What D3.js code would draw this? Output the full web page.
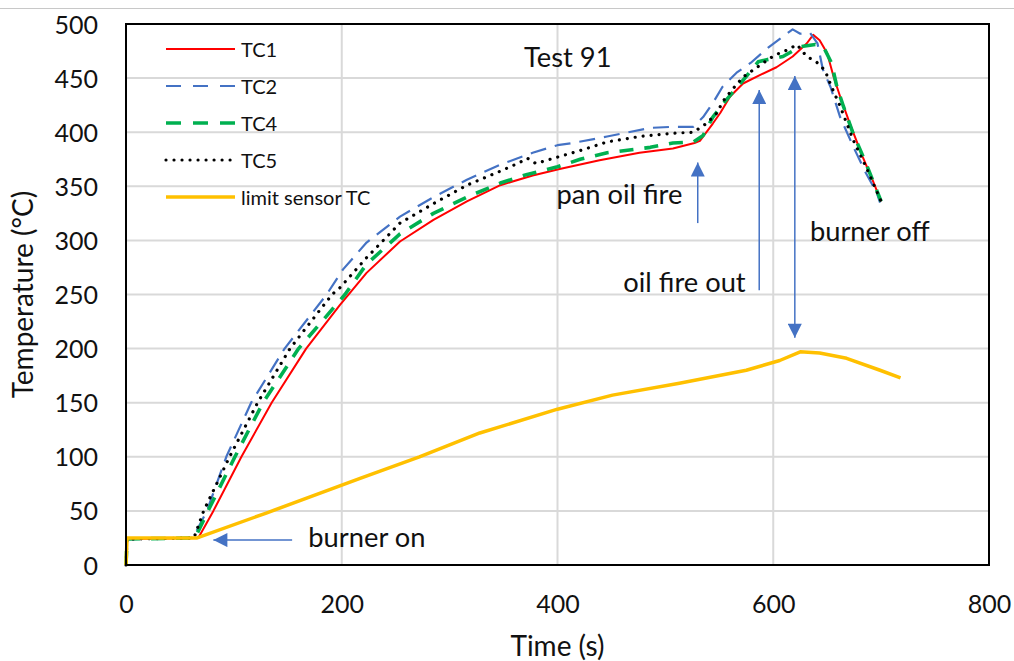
<!DOCTYPE html>
<html>
<head>
<meta charset="utf-8">
<script src="https://cdn.jsdelivr.net/npm/d3@7"></script>
<style>
  body { margin: 0; background: #fff; }
  text { font-family: Lato, "Open Sans", sans-serif; fill: #111; }
</style>
</head>
<body>
<script>
// [time s, temperature °C]
const tc1 = [[0,0],[1,24],[67,25],[81,50],[107,100],[135,150],[167,200],[198,240],[223,270],[254,299],[285,319],[316,336],[347,351],[377,360],[402,366],[439,374],[476,381],[507,385],[527,390],[532,392],[544,408],[551,418],[560,433],[572,445],[588,453],[603,460],[618,470],[631,482],[637,490],[643,485],[650,473],[656,451],[662,433],[671,408],[683,377],[692,356],[700,336]];
const tc2 = [[0,0],[1,24],[62,25],[75,50],[93,100],[116,150],[147,200],[186,250],[201,273],[223,298],[254,322],[285,340],[316,356],[347,370],[377,381],[400,388],[414,390],[446,396],[486,404],[507,405],[526,405],[535,414],[544,427],[553,442],[566,455],[579,464],[595,478],[607,487],[618,495],[625,491],[634,492],[641,482],[646,458],[653,442],[662,414],[674,387],[686,362],[696,344],[699,335]];
const tc4 = [[0,0],[1,24],[64,25],[76,50],[101,100],[127,150],[160,200],[203,250],[223,278],[254,306],[285,325],[316,340],[347,353],[372,361],[400,368],[421,375],[446,381],[486,386],[507,390],[526,391],[535,397],[544,414],[555,428],[572,448],[586,465],[594,467],[609,470],[625,479],[639,481],[647,478],[654,464],[659,442],[665,424],[674,399],[686,371],[700,336]];
const tc5 = [[0,0],[1,24],[63,25],[72,50],[96,100],[122,150],[152,200],[191,250],[198,256],[223,284],[254,316],[285,334],[316,351],[347,364],[365,372],[372,376],[380,371],[400,377],[421,383],[446,391],[476,396],[507,399],[526,400],[538,408],[548,418],[553,428],[560,437],[572,451],[585,460],[601,471],[613,476],[622,481],[631,470],[640,465],[648,457],[654,442],[662,424],[674,393],[686,368],[700,336]];
const limitTC = [[0,0],[1,25],[66,25],[130,48],[217,80],[272,100],[328,122],[400,144],[451,157],[513,168],[575,180],[606,189],[625,197],[643,196],[668,191],[699,180],[718,173]];

const seriesNames = ["TC1", "TC2", "TC4", "TC5", "limit sensor TC"];
const xTicks = [0, 200, 400, 600, 800];
const yTicks = [0, 50, 100, 150, 200, 250, 300, 350, 400, 450, 500];

// annotation arrows: [t, T] from -> to
const arrowFrom = [[154,23], [530,316], [587,254], [620,452]];
const arrowTo = [[81,23], [530,372], [587,439], [620,210]];
const arrowBoth = [false, false, false, true];
const noteText = ["burner on", "pan oil fire", "oil fire out", "burner off", "Test 91"];
const notePos = [[169,17], [399,334], [461,252], [634,299], [369,460]];

const width = 1014, height = 661;
const margin = {top: 24, right: 25, bottom: 96, left: 126};

const svg = d3.select("body").append("svg")
    .attr("width", width)
    .attr("height", height);

svg.append("rect").attr("width", width).attr("height", height).attr("fill", "#fff");
// thin frame line of the screenshot at the top
svg.append("line")
    .attr("x1", 0).attr("x2", width).attr("y1", 8.5).attr("y2", 8.5)
    .attr("stroke", "#c8c8c8").attr("stroke-width", 1);

const x = d3.scaleLinear().domain([0, 800]).range([margin.left, width - margin.right]);
const y = d3.scaleLinear().domain([0, 500]).range([height - margin.bottom, margin.top]);

// grid
svg.append("g").selectAll("line")
    .data(yTicks)
    .join("line")
    .attr("x1", x(0)).attr("x2", x(800))
    .attr("y1", d => y(d)).attr("y2", d => y(d))
    .attr("stroke", "#d9d9d9").attr("stroke-width", 2);
svg.append("g").selectAll("line")
    .data(xTicks)
    .join("line")
    .attr("y1", y(0)).attr("y2", y(500))
    .attr("x1", d => x(d)).attr("x2", d => x(d))
    .attr("stroke", "#d9d9d9").attr("stroke-width", 2);

// axes (labels only)
const xAxis = svg.append("g")
    .attr("transform", "translate(0," + y(0) + ")")
    .call(d3.axisBottom(x).tickValues(xTicks).tickSize(0).tickPadding(30));
const yAxis = svg.append("g")
    .attr("transform", "translate(" + (x(0) - 28) + ",0)")
    .call(d3.axisLeft(y).tickValues(yTicks).tickSize(0).tickPadding(0));
[xAxis, yAxis].forEach(a => {
    a.select(".domain").remove();
    a.selectAll("text").attr("font-size", 25).attr("font-family", "Lato").attr("fill", "#111");
});
yAxis.selectAll("text").attr("dy", "0.36em");

svg.append("text")
    .attr("x", (x(0) + x(800)) / 2).attr("y", 656)
    .attr("text-anchor", "middle").attr("font-size", 28)
    .text("Time (s)");
svg.append("text")
    .attr("transform", "translate(33," + (y(0) + y(500)) / 2 + ") rotate(-90)")
    .attr("text-anchor", "middle").attr("font-size", 28)
    .text("Temperature (°C)");

// series
const line = d3.line().x(d => x(d[0])).y(d => y(d[1]));
const styles = [
    {color: "#ff0000", w: 2, dash: null, cap: "butt"},
    {color: "#4472c4", w: 2.2, dash: "16,9", cap: "butt"},
    {color: "#00b050", w: 3.6, dash: "14,11", cap: "butt"},
    {color: "#000000", w: 3.2, dash: "0.01,8", cap: "round"},
    {color: "#ffc000", w: 3.5, dash: null, cap: "butt"}
];
const allSeries = [tc1, tc2, tc4, tc5, limitTC];

svg.append("g").selectAll("path")
    .data(allSeries)
    .join("path")
    .attr("d", line)
    .attr("fill", "none")
    .attr("stroke", (d, i) => styles[i].color)
    .attr("stroke-width", (d, i) => styles[i].w)
    .attr("stroke-dasharray", (d, i) => styles[i].dash)
    .attr("stroke-linecap", (d, i) => styles[i].cap)
    .attr("stroke-linejoin", "round");

// plot border
svg.append("rect")
    .attr("x", x(0)).attr("y", y(500))
    .attr("width", x(800) - x(0)).attr("height", y(0) - y(500))
    .attr("fill", "none").attr("stroke", "#000").attr("stroke-width", 2);

// legend
const legend = svg.append("g").selectAll("g")
    .data(seriesNames)
    .join("g")
    .attr("transform", (d, i) => "translate(166," + (49 + i * 37) + ")");
legend.append("line")
    .attr("x1", 0).attr("x2", 69)
    .attr("stroke", (d, i) => styles[i].color)
    .attr("stroke-width", (d, i) => styles[i].w)
    .attr("stroke-dasharray", (d, i) => i === 1 || i === 2 ? "15,12" : styles[i].dash)
    .attr("stroke-linecap", (d, i) => styles[i].cap);
legend.append("text")
    .attr("x", 75).attr("y", 8)
    .attr("font-size", 20)
    .text(d => d);

// annotations
const defs = svg.append("defs");
defs.append("marker")
    .attr("id", "head")
    .attr("viewBox", "0 0 10 10")
    .attr("refX", 10).attr("refY", 5)
    .attr("markerUnits", "userSpaceOnUse")
    .attr("markerWidth", 17).attr("markerHeight", 14)
    .attr("orient", "auto-start-reverse")
    .append("path")
    .attr("d", "M0,0 L10,5 L0,10 Z")
    .attr("fill", "#4472c4");

svg.append("g").selectAll("line")
    .data(arrowFrom)
    .join("line")
    .attr("x1", d => x(d[0])).attr("y1", d => y(d[1]))
    .attr("x2", (d, i) => x(arrowTo[i][0])).attr("y2", (d, i) => y(arrowTo[i][1]))
    .attr("stroke", "#4472c4").attr("stroke-width", 1.5)
    .attr("marker-end", "url(#head)")
    .attr("marker-start", (d, i) => arrowBoth[i] ? "url(#head)" : null);

svg.append("g").selectAll("text")
    .data(noteText)
    .join("text")
    .attr("x", (d, i) => x(notePos[i][0]))
    .attr("y", (d, i) => y(notePos[i][1]))
    .attr("font-size", 27.3)
    .text(d => d);
</script>
</body>
</html>
